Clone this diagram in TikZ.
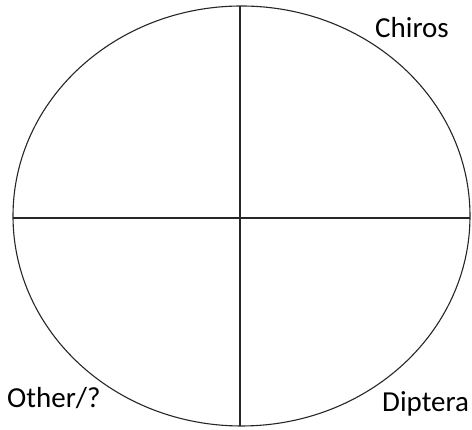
\documentclass[tikz,border=0pt]{standalone}
\usepackage{fontspec}
\setmainfont{Carlito}
\begin{document}
\begin{tikzpicture}[x=1pt,y=1pt,
  shapeline/.style={line width=1.1pt,draw=black!85},
  lbl/.style={anchor=base west,inner sep=0pt,font=\fontsize{29}{33}\selectfont}]
\useasboundingbox (0,0) rectangle (472,430);
\draw[shapeline] (241.5,214) ellipse [x radius=228.5,y radius=210];
\coordinate (top) at (240,424);
\coordinate (bot) at (240,4);
\coordinate (lft) at (13,212);
\coordinate (rgt) at (470,212);
\draw[shapeline] (top) -- (bot);
\draw[shapeline] (lft) -- (rgt);
\node[lbl] (chiros) at (375,392) {Chiros};
\node[lbl] (other) at (7,22) {Other/?};
\node[lbl] (diptera) at (382,18) {Diptera};
\end{tikzpicture}
\end{document}
